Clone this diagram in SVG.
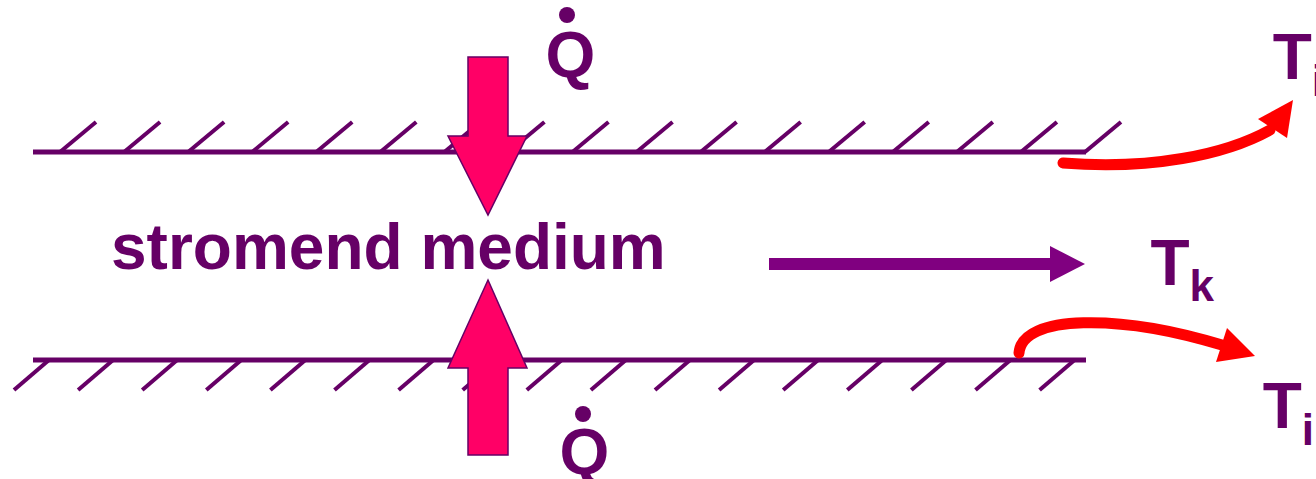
<svg xmlns="http://www.w3.org/2000/svg" width="1316" height="479" viewBox="0 0 1316 479">
<defs>
<style>
.wall{stroke:#660066;stroke-width:5;fill:none}
.hatch{stroke:#660066;stroke-width:4;fill:none}
.heat{fill:#FF0066;stroke:#660066;stroke-width:1.5;stroke-linejoin:miter}
.lbl{font-family:"Liberation Sans",Arial,sans-serif;font-weight:bold;fill:#660066}
.red{stroke:#FF0000;stroke-width:11;fill:none;stroke-linecap:round}
.redhead{fill:#FF0000}
</style>
<path id="th" d="M0,0 l36,-30" class="hatch"/>
<path id="bh" d="M0,0 l-35,30" class="hatch"/>
</defs>
<rect width="1316" height="479" fill="#ffffff"/>
<g id="top-wall">
<line x1="33" y1="152" x2="1086" y2="152" class="wall"/>
<use href="#th" x="60" y="152"/><use href="#th" x="124.06" y="152"/><use href="#th" x="188.12" y="152"/><use href="#th" x="252.18" y="152"/><use href="#th" x="316.24" y="152"/><use href="#th" x="380.3" y="152"/><use href="#th" x="444.36" y="152"/><use href="#th" x="508.42" y="152"/><use href="#th" x="572.48" y="152"/><use href="#th" x="636.54" y="152"/><use href="#th" x="700.6" y="152"/><use href="#th" x="764.66" y="152"/><use href="#th" x="828.72" y="152"/><use href="#th" x="892.78" y="152"/><use href="#th" x="956.84" y="152"/><use href="#th" x="1020.9" y="152"/><use href="#th" x="1084.96" y="152"/>
</g>
<g id="bottom-wall">
<line x1="33" y1="360" x2="1086" y2="360" class="wall"/>
<use href="#bh" x="49" y="360"/><use href="#bh" x="113.1" y="360"/><use href="#bh" x="177.2" y="360"/><use href="#bh" x="241.3" y="360"/><use href="#bh" x="305.4" y="360"/><use href="#bh" x="369.5" y="360"/><use href="#bh" x="433.6" y="360"/><use href="#bh" x="497.7" y="360"/><use href="#bh" x="561.8" y="360"/><use href="#bh" x="625.9" y="360"/><use href="#bh" x="690" y="360"/><use href="#bh" x="754.1" y="360"/><use href="#bh" x="818.2" y="360"/><use href="#bh" x="882.3" y="360"/><use href="#bh" x="946.4" y="360"/><use href="#bh" x="1010.5" y="360"/><use href="#bh" x="1074.6" y="360"/>
</g>
<g id="heat-top">
<polygon class="heat" points="468,57 508,57 508,136 527,136 488,215 448,136 468,136"/>
<circle cx="567" cy="15" r="8" fill="#660066"/>
<text class="lbl" x="545.5" y="77" font-size="64">Q</text>
</g>
<g id="heat-bottom">
<polygon class="heat" points="488,280 527,368 508,368 508,455 468,455 468,368 448,368"/>
<circle cx="583" cy="414" r="8" fill="#660066"/>
<text class="lbl" x="559.5" y="474" font-size="64">Q</text>
</g>
<g id="medium">
<text class="lbl" x="111" y="269" font-size="64">stromend medium</text>
</g>
<g id="Tk">
<text class="lbl" x="1150.5" y="285" font-size="64">T<tspan font-size="44" dy="16">k</tspan></text>
</g>
<g id="Ti-top">
<text class="lbl" x="1272.7" y="79" font-size="64">T<tspan font-size="44" dy="17">i</tspan></text>
</g>
<g id="Ti-bottom">
<text class="lbl" x="1262.7" y="428" font-size="64">T<tspan font-size="44" dy="17">i</tspan></text>
</g>
<g id="connectors">
<rect x="769" y="258" width="282" height="12" fill="#800080"/>
<polygon points="1050,246 1085,264 1050,282" fill="#800080"/>
<path class="red" d="M1063,163 C1150,170 1225,155 1270,130"/>
<polygon class="redhead" points="1293,100 1258,119 1287,138"/>
<path class="red" d="M1019,353 C1022,314 1120,314 1222,345"/>
<polygon class="redhead" points="1255,356 1227,328 1216,362"/>
</g>
</svg>
